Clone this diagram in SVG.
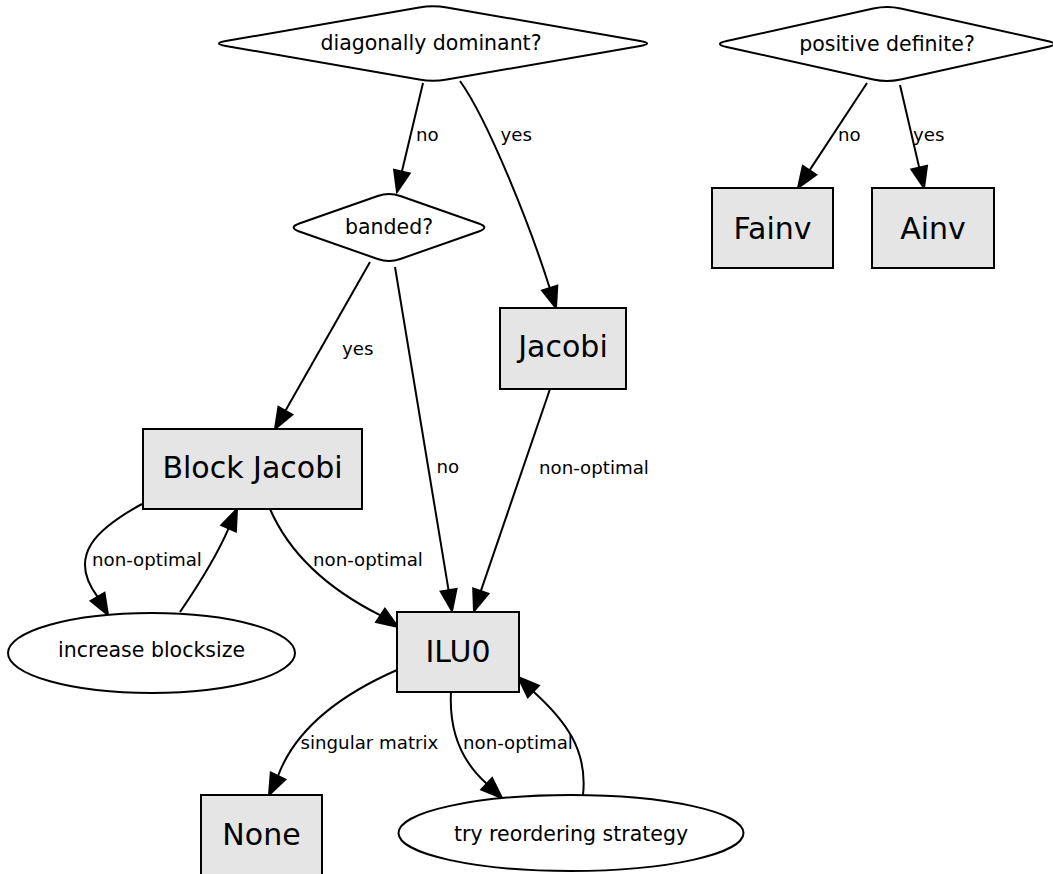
<svg xmlns="http://www.w3.org/2000/svg" width="1053" height="874" viewBox="0 0 1053 874">
<style>
.box{fill:#e5e5e5;stroke:#000;stroke-width:2}
.shape{fill:#fff;stroke:#000;stroke-width:2}
.bt{font-family:"DejaVu Sans",sans-serif;font-size:30px;text-anchor:middle;fill:#000}
.nt{font-family:"DejaVu Sans",sans-serif;font-size:20.5px;text-anchor:middle;fill:#000}
.el{font-family:"DejaVu Sans",sans-serif;font-size:18.2px;fill:#000}
.edge path{fill:none;stroke:#000;stroke-width:2}
.edge polygon{fill:#000;stroke:#000;stroke-width:2}
</style>
<rect width="1053" height="874" fill="#fff"/>
<g id="connectors" class="edge">
<path d="M423,83 L401.9,171.6"/><polygon points="397,192 409.7,173.4 394.1,169.7"/>
<path d="M460,81 C489,121.5 531.7,230.8 549.7,288"/><polygon points="556,308 557.3,285.6 542.1,290.4"/>
<path d="M867,83 L809.5,170.4"/><polygon points="798,188 816.2,174.8 802.8,166"/>
<path d="M900,85 L919.2,167.6"/><polygon points="924,188 927,165.8 911.4,169.4"/>
<path d="M370,262 L285.4,410.7"/><polygon points="275,429 292.3,414.7 278.4,406.8"/>
<path d="M395,267 L448.6,590.3"/><polygon points="452,611 456.5,589 440.7,591.6"/>
<path d="M550,389 L480.8,591.1"/><polygon points="474,611 488.4,593.7 473.2,588.5"/>
<path d="M142,504 C98,528 66,555 97.6,596.8"/><polygon points="108,615 104.5,592.8 90.7,600.8"/>
<path d="M180,612 C195,590 215,560 228.6,528.3"/><polygon points="237,509 235.9,531.5 221.3,525.1"/>
<path d="M270,509 C290,555 330,590 380.5,615.4"/><polygon points="398,627 384.9,608.7 376.1,622"/>
<path d="M397,670 C340,695 295,730 278,776"/><polygon points="269,795 285.3,779.5 270.8,772.6"/>
<path d="M451,692 C449,730 460,760 486.7,783.7"/><polygon points="502,798 492.1,777.9 481.3,789.5"/>
<path d="M583,795 C588,750 565,720 533.3,691.4"/><polygon points="518,677 538.8,685.6 527.8,697.2"/>
<text class="el" x="416" y="141">no</text>
<text class="el" x="500.5" y="141">yes</text>
<text class="el" x="838" y="141">no</text>
<text class="el" x="913" y="141">yes</text>
<text class="el" x="342" y="355">yes</text>
<text class="el" x="436.5" y="473">no</text>
<text class="el" x="539" y="474">non-optimal</text>
<text class="el" x="92" y="566">non-optimal</text>
<text class="el" x="313" y="566">non-optimal</text>
<text class="el" x="300.5" y="749">singular matrix</text>
<text class="el" x="463" y="749">non-optimal</text>
</g>
<g id="diag">
<path class="shape" d="M225.8,41.1 L419.2,7.4 Q433,5 446.8,7.4 L640.2,41.1 Q654,43.5 640.2,45.9 L446.8,79.6 Q433,82 419.2,79.6 L225.8,45.9 Q212,43.5 225.8,41.1Z"/>
<text class="nt" x="431" y="50">diagonally dominant?</text>
</g>
<g id="posdef">
<path class="shape" d="M726.7,41 L873.3,8.5 Q887,5.5 900.7,8.5 L1047.3,41 Q1061,44 1047.3,47 L900.7,79.5 Q887,82.5 873.3,79.5 L726.7,47 Q713,44 726.7,41Z"/>
<text class="nt" x="887" y="51">positive definite?</text>
</g>
<g id="banded">
<path class="shape" d="M299.3,223.5 L377.7,196 Q389,192 400.3,196 L478.7,223.5 Q490,227.5 478.7,231.5 L400.3,259 Q389,263 377.7,259 L299.3,231.5 Q288,227.5 299.3,223.5Z"/>
<text class="nt" x="389" y="234">banded?</text>
</g>
<g id="fainv"><rect class="box" x="712" y="188" width="121" height="80"/><text class="bt" x="772.5" y="239">Fainv</text></g>
<g id="ainv"><rect class="box" x="872" y="188" width="122" height="80"/><text class="bt" x="933" y="239">Ainv</text></g>
<g id="jacobi"><rect class="box" x="500" y="308" width="126" height="81"/><text class="bt" x="563" y="357">Jacobi</text></g>
<g id="blockjacobi"><rect class="box" x="143" y="429" width="219" height="80"/><text class="bt" x="252.5" y="478">Block Jacobi</text></g>
<g id="increase"><ellipse class="shape" cx="151.5" cy="653" rx="143.5" ry="40"/><text class="nt" x="151.5" y="657">increase blocksize</text></g>
<g id="ilu0"><rect class="box" x="397" y="612" width="122" height="80"/><text class="bt" x="458" y="662">ILU0</text></g>
<g id="none"><rect class="box" x="201" y="795" width="121" height="82"/><text class="bt" x="261.5" y="845">None</text></g>
<g id="reorder"><ellipse class="shape" cx="571" cy="833" rx="172.5" ry="38"/><text class="nt" x="571" y="841">try reordering strategy</text></g>
</svg>
